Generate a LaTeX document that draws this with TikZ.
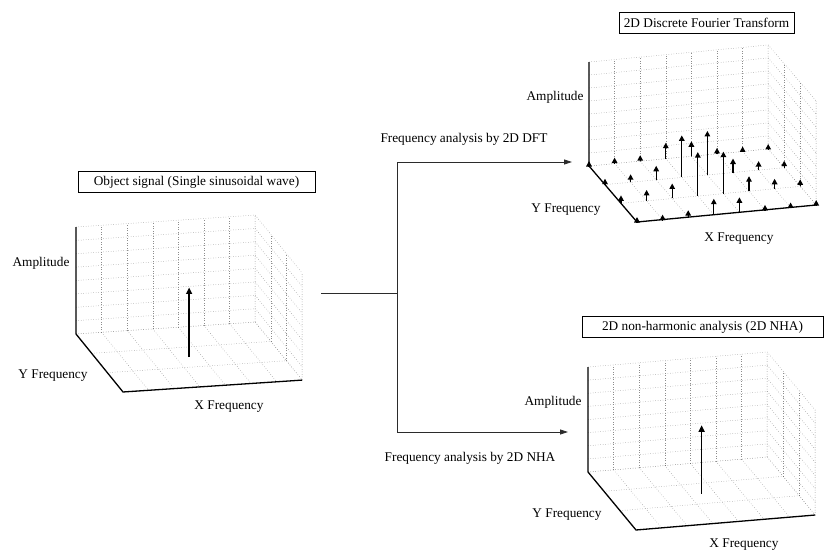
\documentclass[tikz,border=0pt]{standalone}
\usepackage{fontspec}
\setmainfont{Liberation Serif}
\usepackage{tikz}
\usetikzlibrary{arrows.meta,positioning,calc}
\definecolor{gridGray}{HTML}{8C8C8C}
\definecolor{flowInk}{HTML}{2B2B2B}

\tikzset{
  gridline/.style={gridGray,line width=0.5pt,dotted},
  edgeline/.style={gridGray!55!black,line width=0.5pt,dotted},
  axisline/.style={black,line width=1.3pt},
  spike/.style={-{Triangle[length=5.5pt,width=5.5pt]},line width=1.3pt},
  bigspike/.style={-{Triangle[length=6.5pt,width=6pt]},line width=1.5pt},
  titlebox/.style={draw,line width=0.7pt,inner ysep=3pt,minimum height=21pt},
  flow/.style={flowInk,line width=0.8pt},
  plotframe/.style n args={5}{x={(25.6pt,#1pt)},y={(#2pt,#3pt)},z={(0pt,#4pt)},shift={#5}}
}

% box of dotted walls, 7 x 3 x 8 cells
\newcommand{\freqgrid}{%
  \foreach \i in {1,...,6} \draw[gridline] (\i,0,0) -- (\i,0,8);
  \foreach \k in {1,...,8} \draw[gridline] (0,0,\k) -- (7,0,\k);
  \foreach \i in {1,...,6} \draw[gridline] (\i,0,0) -- (\i,3,0);
  \foreach \j in {1,2} \draw[gridline] (0,\j,0) -- (7,\j,0);
  \foreach \j in {1,2} \draw[gridline] (7,\j,0) -- (7,\j,8);
  \foreach \k in {1,...,8} \draw[gridline] (7,0,\k) -- (7,3,\k);
  \draw[edgeline] (0,0,0) -- (7,0,0) -- (7,0,8);
  \draw[edgeline] (7,0,0) -- (7,3,0) -- (7,3,8);
  \draw[axisline] (0,0,8) -- (0,0,0) -- (0,3,0) -- (7,3,0);
}

\begin{document}
\begin{tikzpicture}[x=1pt,y=-1pt,font=\fontsize{13.3}{16}\selectfont]
  \useasboundingbox (0,0) rectangle (828,552);

  % source signal
  \begin{scope}[plotframe={1.7}{15.67}{-19.33}{13.375}{(76pt,-334pt)}]
    \freqgrid
    \draw[bigspike] (3.5,1.5,0) -- (3.5,1.5,5.2);
  \end{scope}
  \node (srcbox) [titlebox,minimum width=237pt] at (196.5,182) {Object signal (Single sinusoidal wave)};
  \node (srcamp) at (41,263) {Amplitude};
  \node (srcyf) at (53,376) {Y Frequency};
  \node (srcxf) at (229,407) {X Frequency};

  % 2D DFT result
  \begin{scope}[plotframe={2.43}{16}{-18.67}{13}{(589pt,-166pt)}]
    \freqgrid
    \foreach \i/\h in {0/5,1/6,2/6,3/16,4/15,5/6,6/5,7/5}
      \draw[spike] (\i,0,0) -- (\i,0,{\h/13});
    \foreach \i/\h in {0/6,1/8,2/14,3/42,4/44,5/14,6/9,7/7}
      \draw[spike] (\i,1,0) -- (\i,1,{\h/13});
    \foreach \i/\h in {0/8,1/11,2/15,3/44,4/42,5/15,6/10,7/7}
      \draw[spike] (\i,2,0) -- (\i,2,{\h/13});
    \foreach \i/\h in {0/5,1/5,2/7,3/16,4/15,5/5,6/5,7/5}
      \draw[spike] (\i,3,0) -- (\i,3,{\h/13});
  \end{scope}
  \node (dftbox) [titlebox,minimum width=175pt] at (706.5,22.5) {2D Discrete Fourier Transform};
  \node (dftamp) at (555,97) {Amplitude};
  \node (dftyf) at (566,210) {Y Frequency};
  \node (dftxf) at (739,239) {X Frequency};

  % 2D NHA result
  \begin{scope}[plotframe={2.14}{16}{-19.33}{13.125}{(588pt,-472pt)}]
    \freqgrid
    \draw[bigspike] (3.5,1.5,0) -- (3.5,1.5,5.2);
  \end{scope}
  \node (nhabox) [titlebox,minimum width=241pt] at (702.5,327) {2D non-harmonic analysis (2D NHA)};
  \node (nhaamp) at (553,402) {Amplitude};
  \node (nhayf) at (567,515) {Y Frequency};
  \node (nhaxf) at (744,545) {X Frequency};

  % branching connectors
  \coordinate (srcout) at (321,293);
  \coordinate (fork) at (397,293);
  \coordinate (dftin) at (572,162);
  \coordinate (nhain) at (568,432);
  \draw[flow] (srcout) -- (fork);
  \draw[flow,-{Triangle[length=8pt,width=5pt]}] (fork) |- (dftin);
  \draw[flow,-{Triangle[length=8pt,width=5pt]}] (fork) |- (nhain);
  \node (dftlbl) at (464,139) {Frequency analysis by 2D DFT};
  \node (nhalbl) at (470,458) {Frequency analysis by 2D NHA};
\end{tikzpicture}
\end{document}
